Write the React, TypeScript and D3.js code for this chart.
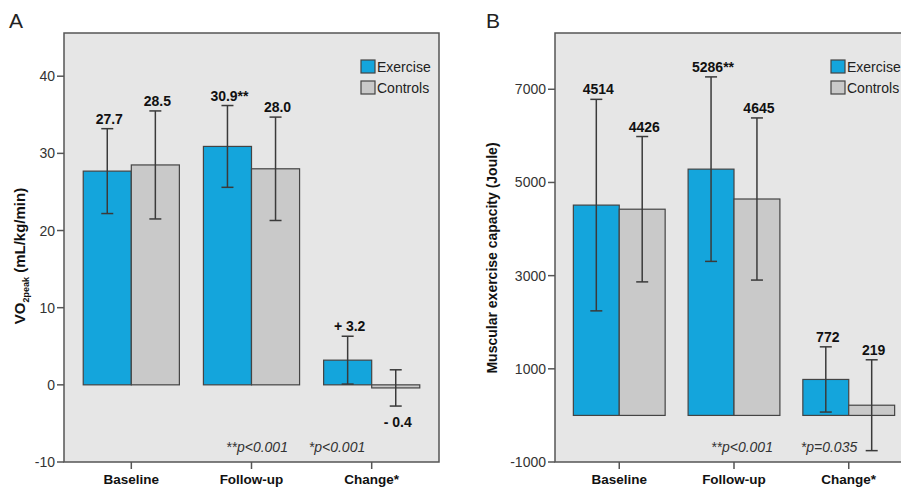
import React from "react";
import * as d3 from "d3";

const categories = ["Baseline", "Follow-up", "Change*"];

const vo2Exercise = [27.7, 30.9, 3.2];
const vo2Controls = [28.5, 28.0, -0.4];
const vo2ExerciseErr = [5.5, 5.3, 3.1];
const vo2ControlsErr = [7.0, 6.7, 2.35];
const vo2ExerciseLabels = ["27.7", "30.9**", "+ 3.2"];
const vo2ControlsLabels = ["28.5", "28.0", "- 0.4"];
const vo2Ticks = [-10, 0, 10, 20, 30, 40];

const capExercise = [4514, 5286, 772];
const capControls = [4426, 4645, 219];
const capExerciseErr = [2270, 1980, 700];
const capControlsErr = [1560, 1740, 975];
const capExerciseLabels = ["4514", "5286**", "772"];
const capControlsLabels = ["4426", "4645", "219"];
const capTicks = [-1000, 1000, 3000, 5000, 7000];

const seriesNames = ["Exercise", "Controls"];
const seriesColors = ["#14a5dc", "#c9c9c9"];

const FONT = "'Liberation Sans', Arial, Helvetica, sans-serif";

type PanelProps = {
  letter: string;
  left: number;
  right: number;
  top: number;
  bottom: number;
  domain: [number, number];
  ticks: number[];
  ex: number[];
  ct: number[];
  exErr: number[];
  ctErr: number[];
  exLabels: string[];
  ctLabels: string[];
  yLabel: React.ReactNode;
  yLabelX: number;
  yLabelY: number;
  yLabelSize: number;
  letterX: number;
  pNotes: { text: string; x: number }[];
  legendX: number;
};

function Panel(p: PanelProps) {
  const y = d3.scaleLinear().domain(p.domain).range([p.bottom, p.top]);
  const x = d3
    .scaleBand<string>()
    .domain(categories)
    .range([p.left, p.right])
    .paddingInner(0.2)
    .paddingOuter(0.16);
  const xs = d3
    .scaleBand<string>()
    .domain(seriesNames)
    .range([0, x.bandwidth()]);
  const series = [
    { vals: p.ex, errs: p.exErr, labels: p.exLabels, name: seriesNames[0], color: seriesColors[0] },
    { vals: p.ct, errs: p.ctErr, labels: p.ctLabels, name: seriesNames[1], color: seriesColors[1] },
  ];
  const y0 = y(0);
  const axisColor = "#555";
  const errColor = "#3a3a3a";
  return (
    <g>
      <text x={p.letterX} y={28} fontFamily={FONT} fontSize={21} fill="#222">
        {p.letter}
      </text>
      <rect
        x={p.left}
        y={p.top}
        width={p.right - p.left}
        height={p.bottom - p.top}
        fill="#e6e6e6"
        stroke={axisColor}
        strokeWidth={1.5}
      />
      {series.map((s) =>
        categories.map((c, i) => {
          const bx = (x(c) as number) + (xs(s.name) as number);
          const bw = xs.bandwidth();
          const v = s.vals[i];
          const yv = y(v);
          return (
            <rect
              key={s.name + c}
              x={bx}
              y={Math.min(yv, y0)}
              width={bw}
              height={Math.max(Math.abs(y0 - yv), 1)}
              fill={s.color}
              stroke="#444"
              strokeWidth={1.2}
            />
          );
        })
      )}
      {series.map((s) =>
        categories.map((c, i) => {
          const cx = (x(c) as number) + (xs(s.name) as number) + xs.bandwidth() / 2;
          const v = s.vals[i];
          const yt = y(v + s.errs[i]);
          const yb = y(v - s.errs[i]);
          const below = v < 0;
          return (
            <g key={"e" + s.name + c}>
              <line x1={cx} x2={cx} y1={yt} y2={yb} stroke={errColor} strokeWidth={1.5} />
              <line x1={cx - 6} x2={cx + 6} y1={yt} y2={yt} stroke={errColor} strokeWidth={1.5} />
              <line x1={cx - 6} x2={cx + 6} y1={yb} y2={yb} stroke={errColor} strokeWidth={1.5} />
              <text
                x={cx + 2}
                y={below ? yb + 21 : yt - 5}
                textAnchor="middle"
                fontFamily={FONT}
                fontWeight="bold"
                fontSize={14}
                fill="#111"
              >
                {s.labels[i]}
              </text>
            </g>
          );
        })
      )}
      {p.ticks.map((t) => (
        <g key={"t" + t}>
          <line x1={p.left - 7} x2={p.left} y1={y(t)} y2={y(t)} stroke={axisColor} strokeWidth={1.5} />
          <text
            x={p.left - 9}
            y={y(t) + 5}
            textAnchor="end"
            fontFamily={FONT}
            fontSize={14}
            fill="#333"
          >
            {t}
          </text>
        </g>
      ))}
      {categories.map((c) => {
        const cx = (x(c) as number) + x.bandwidth() / 2;
        return (
          <g key={"c" + c}>
            <line x1={cx} x2={cx} y1={p.bottom} y2={p.bottom + 7} stroke={axisColor} strokeWidth={1.5} />
            <text
              x={cx}
              y={484}
              textAnchor="middle"
              fontFamily={FONT}
              fontWeight="bold"
              fontSize={13.5}
              fill="#111"
            >
              {c}
            </text>
          </g>
        );
      })}
      {p.pNotes.map((n) => (
        <text
          key={n.text}
          x={n.x}
          y={452}
          textAnchor="middle"
          fontFamily={FONT}
          fontStyle="italic"
          fontSize={14}
          fill="#333"
        >
          {n.text}
        </text>
      ))}
      {seriesNames.map((n, i) => (
        <g key={"l" + n}>
          <rect
            x={p.legendX}
            y={60 + i * 21}
            width={14}
            height={13}
            fill={seriesColors[i]}
            stroke="#444"
            strokeWidth={1.2}
          />
          <text x={p.legendX + 16} y={72 + i * 21} fontFamily={FONT} fontSize={14} fill="#222">
            {n}
          </text>
        </g>
      ))}
      <text
        transform={`translate(${p.yLabelX},${p.yLabelY}) rotate(-90)`}
        textAnchor="middle"
        fontFamily={FONT}
        fontWeight="bold"
        fontSize={p.yLabelSize}
        fill="#111"
      >
        {p.yLabel}
      </text>
    </g>
  );
}

export default function App() {
  return (
    <svg
      width={901}
      height={492}
      style={{ position: "absolute", left: 0, top: 0, background: "#fff" }}
    >
      <rect width={901} height={492} fill="#fff" />
      <Panel
        letter="A"
        letterX={9}
        left={64}
        right={439}
        top={33}
        bottom={462}
        domain={[-10, 45.6]}
        ticks={vo2Ticks}
        ex={vo2Exercise}
        ct={vo2Controls}
        exErr={vo2ExerciseErr}
        ctErr={vo2ControlsErr}
        exLabels={vo2ExerciseLabels}
        ctLabels={vo2ControlsLabels}
        yLabel={
          <>
            <tspan>VO</tspan>
            <tspan fontSize={9} dy={4}>2peak</tspan>
            <tspan dy={-4}> (mL/kg/min)</tspan>
          </>
        }
        yLabelSize={15}
        yLabelX={25}
        yLabelY={256}
        pNotes={[
          { text: "**p<0.001", x: 257 },
          { text: "*p<0.001", x: 337 },
        ]}
        legendX={361}
      />
      <Panel
        letter="B"
        letterX={486}
        left={555}
        right={913}
        top={33}
        bottom={462}
        domain={[-1000, 8208]}
        ticks={capTicks}
        ex={capExercise}
        ct={capControls}
        exErr={capExerciseErr}
        ctErr={capControlsErr}
        exLabels={capExerciseLabels}
        ctLabels={capControlsLabels}
        yLabel={<tspan>Muscular exercise capacity (Joule)</tspan>}
        yLabelSize={14}
        yLabelX={497}
        yLabelY={258}
        pNotes={[
          { text: "**p<0.001", x: 742 },
          { text: "*p=0.035", x: 829 },
        ]}
        legendX={831}
      />
    </svg>
  );
}
